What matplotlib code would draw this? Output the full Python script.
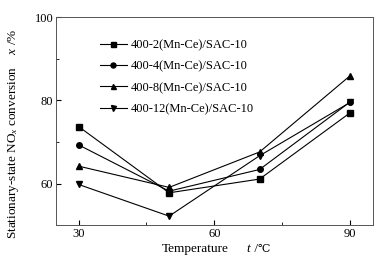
import matplotlib
matplotlib.use('Agg')
import matplotlib.pyplot as plt
from matplotlib.ticker import MultipleLocator

plt.rcParams['font.family'] = ['Liberation Serif', 'DejaVu Serif']
plt.rcParams['mathtext.fontset'] = 'custom'
plt.rcParams['mathtext.it'] = 'Liberation Serif:italic'
plt.rcParams['mathtext.rm'] = 'Liberation Serif'

# Datos
temp = [30, 50, 70, 90]
s2 = [73.7, 57.8, 61.1, 77.0]
s4 = [69.3, 58.2, 63.4, 79.6]
s8 = [64.2, 59.1, 67.6, 85.9]
s12 = [59.8, 52.2, 66.7, 79.5]
labels = ['400-2(Mn-Ce)/SAC-10', '400-4(Mn-Ce)/SAC-10',
          '400-8(Mn-Ce)/SAC-10', '400-12(Mn-Ce)/SAC-10']

fig = plt.figure(figsize=(3.85, 2.65), dpi=100)
ax = fig.add_axes([56/385, 1-225.3/265, (372.7-56)/385, (225.3-17)/265])

for y, m, lab in zip([s2, s4, s8, s12], ['s', 'o', '^', 'v'], labels):
    ax.plot(temp, y, color='black', marker=m, markersize=4, linewidth=0.8, label=lab)

ax.set_xlim(25, 95)
ax.set_ylim(50, 100)
ax.xaxis.set_major_locator(MultipleLocator(30))
ax.xaxis.set_minor_locator(MultipleLocator(15))
ax.yaxis.set_major_locator(MultipleLocator(20))
ax.yaxis.set_minor_locator(MultipleLocator(10))
ax.tick_params(which='both', direction='in', labelsize=9, top=False, right=False)
ax.tick_params(which='major', length=3.5, pad=2)
ax.tick_params(which='minor', length=2.5)
for sp in ax.spines.values():
    sp.set_color('#555555')
    sp.set_linewidth(0.7)

# eje x: texto en partes (t en cursiva, simbolo de grados sin mathtext)
fig.text(162/385, 1-249/265, 'Temperature', fontsize=9.5, ha='left', va='center')
fig.text(246/385, 1-249/265, 't', fontsize=9.5, style='italic', ha='left', va='center')
fig.text(251/385, 1-249/265, ' /', fontsize=9.5, ha='left', va='center')
fig.text(258/385, 1-249/265, '\u2103', fontsize=8, ha='left', va='center')

ax.set_ylabel('Stationary-state NO$_x$ conversion    $x$ /%', fontsize=9.5)
ax.yaxis.set_label_coords(-0.11, 0.44)

ax.legend(loc='upper left', bbox_to_anchor=(0.11, 0.935), frameon=False, fontsize=9,
          handlelength=2.2, labelspacing=0.74, handletextpad=0.3, borderpad=0.2,
          markerscale=0.9)

plt.savefig('out.png', dpi=100)
